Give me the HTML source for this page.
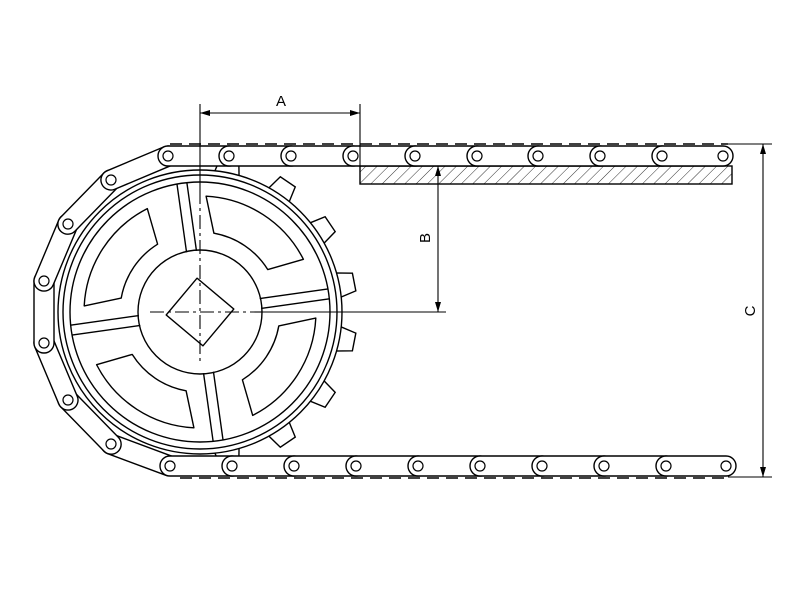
<!DOCTYPE html>
<html><head><meta charset="utf-8"><style>html,body{margin:0;padding:0;background:#fff}</style></head>
<body>
<svg width="800" height="600" viewBox="0 0 800 600" xmlns="http://www.w3.org/2000/svg" font-family="Liberation Sans, sans-serif">
<defs>
<pattern id="h" width="8" height="8" patternUnits="userSpaceOnUse" patternTransform="rotate(45)">
<line x1="0" y1="0" x2="0" y2="8" stroke="#000" stroke-width="0.8"/></pattern>
<marker id="ar" markerWidth="10" markerHeight="6" refX="10" refY="3" orient="auto" markerUnits="userSpaceOnUse"><path d="M0,0 L10,3 L0,6 z" fill="#000"/></marker>
<marker id="al" markerWidth="10" markerHeight="6" refX="0" refY="3" orient="auto" markerUnits="userSpaceOnUse"><path d="M10,0 L0,3 L10,6 z" fill="#000"/></marker>
</defs>
<g fill="none" stroke="#000" stroke-width="1.4">
<g fill="#fff">
<g transform="translate(200,312)">
<polygon points="138,-13 157,-9 157,9 138,13" transform="rotate(-79)"/>
<polygon points="138,-13 157,-9 157,9 138,13" transform="rotate(-56)"/>
<polygon points="138,-13 157,-9 157,9 138,13" transform="rotate(-34)"/>
<polygon points="138,-13 157,-9 157,9 138,13" transform="rotate(-11)"/>
<polygon points="138,-13 157,-9 157,9 138,13" transform="rotate(11)"/>
<polygon points="138,-13 157,-9 157,9 138,13" transform="rotate(34)"/>
<polygon points="138,-13 157,-9 157,9 138,13" transform="rotate(56)"/>
<polygon points="138,-13 157,-9 157,9 138,13" transform="rotate(79)"/>
</g>
<circle cx="200" cy="312" r="142"/>
</g>
<circle cx="200" cy="312" r="137"/>
<circle cx="200" cy="312" r="130"/>
<circle cx="200" cy="312" r="62"/>
<g transform="translate(200,312)">
<g transform="rotate(-98)"><line x1="61" y1="-5" x2="130" y2="-5"/><line x1="61" y1="5" x2="130" y2="5"/></g>
<g transform="rotate(-8)"><line x1="61" y1="-5" x2="130" y2="-5"/><line x1="61" y1="5" x2="130" y2="5"/></g>
<g transform="rotate(82)"><line x1="61" y1="-5" x2="130" y2="-5"/><line x1="61" y1="5" x2="130" y2="5"/></g>
<g transform="rotate(172)"><line x1="61" y1="-5" x2="130" y2="-5"/><line x1="61" y1="5" x2="130" y2="5"/></g>
</g>
<g transform="translate(200,312)" stroke-linejoin="round">
<path d="M13.9,-78.8 L6.1,-115.8 A116,116 0 0 1 103.4,-52.7 L67.8,-42.4 A80,80 0 0 0 13.9,-78.8 Z"/>
<path d="M13.9,-78.8 L6.1,-115.8 A116,116 0 0 1 103.4,-52.7 L67.8,-42.4 A80,80 0 0 0 13.9,-78.8 Z" transform="rotate(90)"/>
<path d="M13.9,-78.8 L6.1,-115.8 A116,116 0 0 1 103.4,-52.7 L67.8,-42.4 A80,80 0 0 0 13.9,-78.8 Z" transform="rotate(180)"/>
<path d="M13.9,-78.8 L6.1,-115.8 A116,116 0 0 1 103.4,-52.7 L67.8,-42.4 A80,80 0 0 0 13.9,-78.8 Z" transform="rotate(270)"/>
<rect x="-24" y="-24" width="48" height="48" transform="rotate(40)"/>
</g>
<rect x="360" y="166" width="372" height="18" fill="url(#h)"/>
<line x1="170" y1="144" x2="728" y2="144" stroke-dasharray="12,7" stroke-width="1.6"/>
<line x1="180" y1="478" x2="728" y2="478" stroke-dasharray="12,7" stroke-width="1.6"/>
<g fill="#fff">
<g transform="translate(140,455) rotate(20.4)"><rect x="-41" y="-10" width="82" height="20" rx="10"/></g>
<g transform="translate(89.5,422) rotate(45.7)"><rect x="-41" y="-10" width="82" height="20" rx="10"/></g>
<g transform="translate(56,371.5) rotate(67.2)"><rect x="-41" y="-10" width="82" height="20" rx="10"/></g>
<g transform="translate(44,312) rotate(90)"><rect x="-41" y="-10" width="82" height="20" rx="10"/></g>
<g transform="translate(56,252.5) rotate(112.8)"><rect x="-41" y="-10" width="82" height="20" rx="10"/></g>
<g transform="translate(89.5,202) rotate(134.3)"><rect x="-41" y="-10" width="82" height="20" rx="10"/></g>
<g transform="translate(139.5,168) rotate(157.2)"><rect x="-41" y="-10" width="82" height="20" rx="10"/></g>
<rect x="158" y="146" width="81" height="20" rx="10"/>
<rect x="219" y="146" width="82" height="20" rx="10"/>
<rect x="281" y="146" width="82" height="20" rx="10"/>
<rect x="343" y="146" width="82" height="20" rx="10"/>
<rect x="405" y="146" width="82" height="20" rx="10"/>
<rect x="467" y="146" width="81" height="20" rx="10"/>
<rect x="528" y="146" width="82" height="20" rx="10"/>
<rect x="590" y="146" width="82" height="20" rx="10"/>
<rect x="652" y="146" width="81" height="20" rx="10"/>
<rect x="160" y="456" width="82" height="20" rx="10"/>
<rect x="222" y="456" width="82" height="20" rx="10"/>
<rect x="284" y="456" width="82" height="20" rx="10"/>
<rect x="346" y="456" width="82" height="20" rx="10"/>
<rect x="408" y="456" width="82" height="20" rx="10"/>
<rect x="470" y="456" width="82" height="20" rx="10"/>
<rect x="532" y="456" width="82" height="20" rx="10"/>
<rect x="594" y="456" width="82" height="20" rx="10"/>
<rect x="656" y="456" width="80" height="20" rx="10"/>
</g>
<g stroke-width="1.2">
<circle cx="168" cy="156" r="5"/><circle cx="229" cy="156" r="5"/><circle cx="291" cy="156" r="5"/><circle cx="353" cy="156" r="5"/><circle cx="415" cy="156" r="5"/><circle cx="477" cy="156" r="5"/><circle cx="538" cy="156" r="5"/><circle cx="600" cy="156" r="5"/><circle cx="662" cy="156" r="5"/><circle cx="723" cy="156" r="5"/>
<circle cx="111" cy="180" r="5"/><circle cx="68" cy="224" r="5"/><circle cx="44" cy="281" r="5"/><circle cx="44" cy="343" r="5"/><circle cx="68" cy="400" r="5"/><circle cx="111" cy="444" r="5"/>
<circle cx="170" cy="466" r="5"/><circle cx="232" cy="466" r="5"/><circle cx="294" cy="466" r="5"/><circle cx="356" cy="466" r="5"/><circle cx="418" cy="466" r="5"/><circle cx="480" cy="466" r="5"/><circle cx="542" cy="466" r="5"/><circle cx="604" cy="466" r="5"/><circle cx="666" cy="466" r="5"/><circle cx="726" cy="466" r="5"/>
</g>
<g stroke-width="1.1">
<line x1="200" y1="104" x2="200" y2="190"/>
<line x1="200" y1="190" x2="200" y2="365" stroke-dasharray="14,4,3,4"/>
<line x1="150" y1="312" x2="262" y2="312" stroke-dasharray="14,4,3,4"/>
<line x1="262" y1="312" x2="446" y2="312"/>
<line x1="360" y1="104" x2="360" y2="166"/>
<line x1="200" y1="113" x2="360" y2="113" marker-start="url(#al)" marker-end="url(#ar)"/>
<line x1="438" y1="166" x2="438" y2="312" marker-start="url(#al)" marker-end="url(#ar)"/>
<line x1="728" y1="144" x2="772" y2="144"/>
<line x1="728" y1="477" x2="772" y2="477"/>
<line x1="763" y1="144" x2="763" y2="477" marker-start="url(#al)" marker-end="url(#ar)"/>
</g>
</g>
<g font-size="15" fill="#000" text-anchor="middle">
<text x="281" y="106">A</text>
<text transform="translate(430,238) rotate(-90)">B</text>
<text transform="translate(755,311) rotate(-90)">C</text>
</g>
</svg>
</body></html>
